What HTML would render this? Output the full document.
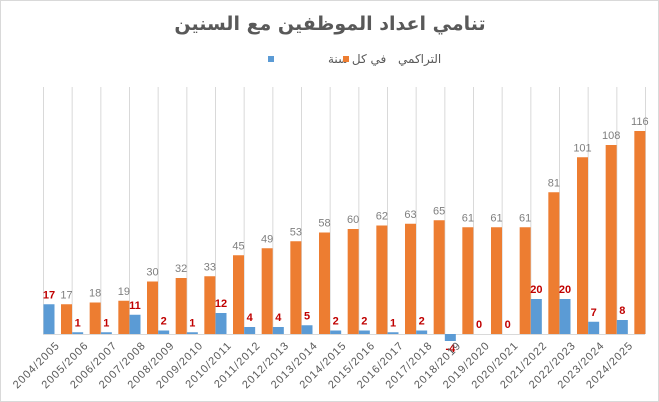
<!DOCTYPE html>
<html><head><meta charset="utf-8"><style>
html,body{margin:0;padding:0;background:#fff}
svg{display:block;font-family:"Liberation Sans","Noto Sans CJK SC",sans-serif}
</style></head><body>
<svg id="chart" width="659" height="402" viewBox="0 0 659 402">
<rect x="0.5" y="0.5" width="658" height="401" fill="#fff" stroke="#d9d9d9"/>
<text x="330" y="30" text-anchor="middle" font-size="19" font-weight="bold" fill="#595959" font-family="'DejaVu Sans',sans-serif" direction="rtl">تنامي اعداد الموظفين مع السنين</text>
<g>
<rect x="268" y="56" width="6" height="6" fill="#5b9bd5"/>
<text x="328" y="63" text-anchor="end" font-size="12" fill="#595959" font-family="'DejaVu Sans',sans-serif" direction="rtl">في كل سنة</text>
<rect x="343" y="56" width="6" height="6" fill="#ed7d31"/>
<text x="398" y="63" text-anchor="end" font-size="12" fill="#595959" font-family="'DejaVu Sans',sans-serif" direction="rtl">التراكمي</text>
</g>
<g id="grid"></g><g id="bars"></g><g id="labels"></g>
</svg>
<script>
const categories=["2004/2005","2005/2006","2006/2007","2007/2008","2008/2009","2009/2010","2010/2011","2011/2012","2012/2013","2013/2014","2014/2015","2015/2016","2016/2017","2017/2018","2018/2019","2019/2020","2020/2021","2021/2022","2022/2023","2023/2024","2024/2025"];
const yearly=[17,1,1,11,2,1,12,4,4,5,2,2,1,2,-4,0,0,20,20,7,8];
const cumulative=[17,18,19,30,32,33,45,49,53,58,60,62,63,65,61,61,61,81,101,108,116];
const NS="http://www.w3.org/2000/svg";
const x0=43,x1=645,y0=334,yTop=87,pxPer=1.75;
const slot=(x1-x0)/categories.length;
const xs=i=>x0+i*slot;
const ys=v=>y0-v*pxPer;
function mk(tag,attrs,parent){const e=document.createElementNS(NS,tag);for(const k in attrs)e.setAttribute(k,attrs[k]);document.getElementById(parent).appendChild(e);return e;}
for(let i=0;i<=categories.length;i++){
const l=mk('line',{x1:xs(i)+0.5,x2:xs(i)+0.5,y1:yTop,y2:y0,stroke:'#d9d9d9'},'grid');


}
const ax=mk('line',{x1:x0,x2:x1,y1:y0+0.5,y2:y0+0.5,stroke:'#d9d9d9'},'grid');


categories.forEach((c,i)=>{
const sx=xs(i);
const v=yearly[i];
const b=mk('rect',{x:sx+0.5,y:Math.min(ys(v),y0),width:11,height:Math.abs(v*pxPer),fill:'#5b9bd5'},'bars');


const cv=cumulative[i];
const o=mk('rect',{x:sx+18,y:ys(cv),width:11,height:cv*pxPer,fill:'#ed7d31'},'bars');


const ly=v<0?y0+18:ys(v)-6;
const t1=mk('text',{x:sx+6,y:ly,'text-anchor':'middle','font-size':11,'font-weight':'bold',fill:'#c00000'},'labels');
t1.textContent=v;


const t2=mk('text',{x:sx+23.5,y:ys(cv)-6,'text-anchor':'middle','font-size':11,fill:'#7f7f7f'},'labels');
t2.textContent=cv;


const cx=sx+slot/2+3,cy=y0+12;
const t3=mk('text',{x:cx,y:cy,'text-anchor':'end','font-size':11,fill:'#595959','letter-spacing':'1',transform:`rotate(-45 ${cx} ${cy})`},'labels');
t3.textContent=c;


});
</script>
</body></html>
